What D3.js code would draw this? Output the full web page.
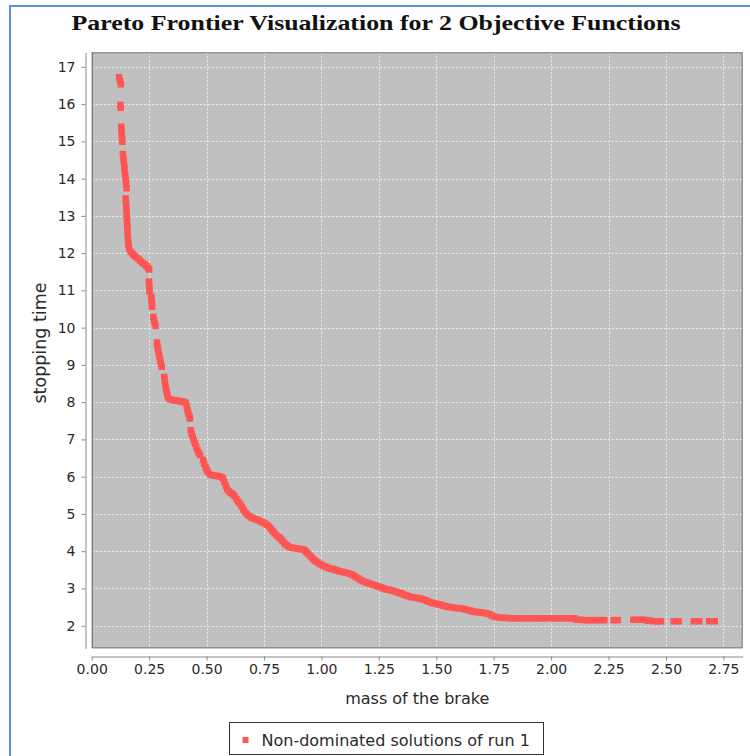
<!DOCTYPE html>
<html>
<head>
<meta charset="utf-8">
<script src="https://cdn.jsdelivr.net/npm/d3@7"></script>
<style>
  html, body { margin: 0; padding: 0; background: #ffffff; }
  svg { display: block; }
</style>
</head>
<body>
<svg id="chart" width="750" height="756"></svg>
<script>
// Non-dominated solutions of run 1: mass of the brake vs. stopping time
const mass = [
  0.119, 0.123, 0.127,
  0.125, 0.126,
  0.129, 0.130, 0.131, 0.132, 0.133,
  0.136, 0.138, 0.140, 0.142, 0.143, 0.145, 0.147, 0.149, 0.150, 0.152,
  0.148, 0.149, 0.150, 0.151, 0.152, 0.153, 0.154, 0.155, 0.156, 0.157, 0.158, 0.159, 0.160,
  0.163, 0.170, 0.178, 0.186, 0.195, 0.204, 0.212, 0.221, 0.230, 0.238, 0.246, 0.250,
  0.249, 0.250, 0.251, 0.252,
  0.259, 0.261, 0.262, 0.263,
  0.268, 0.271, 0.274, 0.278,
  0.284, 0.286, 0.289, 0.292, 0.295, 0.298, 0.301, 0.305,
  0.316, 0.318, 0.320, 0.323, 0.326, 0.329, 0.332,
  0.340, 0.350, 0.360, 0.370, 0.380, 0.390, 0.400, 0.410,
  0.414, 0.417, 0.421, 0.425, 0.428,
  0.431, 0.435, 0.440, 0.445, 0.450, 0.455, 0.460, 0.466, 0.472,
  0.485, 0.490, 0.496, 0.501, 0.506, 0.515, 0.525, 0.535, 0.545, 0.555, 0.565,
  0.572, 0.578, 0.584, 0.590, 0.598, 0.606, 0.614, 0.622, 0.630, 0.638,
  0.646, 0.653, 0.660, 0.667, 0.675, 0.684, 0.693, 0.702, 0.712, 0.722,
  0.732, 0.742, 0.752, 0.762, 0.772, 0.780, 0.788, 0.796, 0.805, 0.814,
  0.822, 0.830, 0.838, 0.846, 0.856, 0.866, 0.876, 0.886, 0.896, 0.906,
  0.916, 0.926, 0.934, 0.942, 0.950, 0.958, 0.966, 0.974, 0.983, 0.992,
  1.001, 1.010, 1.020, 1.030, 1.040, 1.050, 1.060, 1.070, 1.080, 1.090,
  1.100, 1.110, 1.120, 1.130, 1.140, 1.150, 1.160, 1.170, 1.180, 1.190,
  1.200, 1.210, 1.220, 1.230, 1.240, 1.250, 1.260, 1.270, 1.280, 1.290,
  1.300, 1.310, 1.320, 1.330, 1.340, 1.350, 1.360, 1.370, 1.380, 1.390,
  1.400, 1.410, 1.420, 1.430, 1.440, 1.450, 1.460, 1.470, 1.480, 1.490,
  1.500, 1.510, 1.520, 1.530, 1.540, 1.550, 1.560, 1.570, 1.580, 1.590,
  1.600, 1.610, 1.620, 1.630, 1.640, 1.650, 1.660, 1.670, 1.680, 1.690,
  1.700, 1.710, 1.720, 1.730, 1.740, 1.750, 1.760, 1.775, 1.790, 1.805,
  1.820, 1.835, 1.850, 1.865, 1.878,
  1.903, 1.918, 1.933, 1.948, 1.963, 1.975,
  2.000, 2.015, 2.030, 2.045, 2.060, 2.075, 2.090, 2.102,
  2.112, 2.127, 2.142, 2.157, 2.172, 2.187, 2.202, 2.217, 2.232,
  2.272, 2.290,
  2.358, 2.373, 2.388, 2.403, 2.418, 2.430,
  2.447, 2.462, 2.478,
  2.534, 2.555,
  2.621, 2.645,
  2.688, 2.712
];
const stoppingTime = [
  16.72, 16.62, 16.53,
  15.98, 15.90,
  15.39, 15.28, 15.17, 15.07, 14.99,
  14.66, 14.55, 14.45, 14.34, 14.24, 14.14, 14.04, 13.94, 13.84, 13.74,
  13.47, 13.37, 13.26, 13.15, 13.04, 12.93, 12.82, 12.71, 12.60, 12.49, 12.38, 12.28, 12.21,
  12.12, 12.03, 11.98, 11.93, 11.88, 11.84, 11.79, 11.74, 11.70, 11.65, 11.60, 11.56,
  11.24, 11.14, 11.05, 10.97,
  10.83, 10.74, 10.65, 10.56,
  10.29, 10.20, 10.12, 10.05,
  9.60, 9.50, 9.40, 9.30, 9.21, 9.12, 9.03, 8.95,
  8.68, 8.58, 8.48, 8.38, 8.29, 8.20, 8.13,
  8.08, 8.06, 8.05, 8.04, 8.03, 8.02, 8.01, 7.98,
  7.88, 7.78, 7.69, 7.62, 7.56,
  7.25, 7.15, 7.06, 6.97, 6.89, 6.80, 6.72, 6.64, 6.58,
  6.45, 6.35, 6.25, 6.18, 6.13, 6.06, 6.04, 6.03, 6.02, 6.01, 5.99,
  5.95, 5.85, 5.75, 5.66, 5.60, 5.56, 5.53, 5.48, 5.40, 5.33,
  5.27, 5.20, 5.12, 5.05, 5.00, 4.95, 4.91, 4.88, 4.86, 4.84,
  4.81, 4.78, 4.75, 4.71, 4.66, 4.60, 4.54, 4.48, 4.42, 4.38,
  4.34, 4.28, 4.22, 4.17, 4.13, 4.10, 4.09, 4.08, 4.07, 4.06,
  4.05, 4.03, 3.98, 3.93, 3.88, 3.83, 3.78, 3.74, 3.70, 3.66,
  3.63, 3.60, 3.58, 3.55, 3.53, 3.52, 3.50, 3.48, 3.46, 3.45,
  3.43, 3.42, 3.40, 3.38, 3.35, 3.31, 3.27, 3.23, 3.20, 3.17,
  3.15, 3.13, 3.11, 3.09, 3.07, 3.05, 3.03, 3.00, 2.98, 2.97,
  2.96, 2.94, 2.92, 2.90, 2.88, 2.86, 2.83, 2.81, 2.79, 2.77,
  2.76, 2.75, 2.74, 2.73, 2.71, 2.69, 2.67, 2.64, 2.62, 2.60,
  2.59, 2.57, 2.56, 2.54, 2.52, 2.51, 2.50, 2.49, 2.48, 2.47,
  2.47, 2.46, 2.45, 2.43, 2.42, 2.40, 2.38, 2.37, 2.37, 2.36,
  2.35, 2.34, 2.33, 2.31, 2.28, 2.25, 2.23, 2.22, 2.21, 2.21,
  2.20, 2.20, 2.20, 2.20, 2.20,
  2.20, 2.20, 2.20, 2.20, 2.20, 2.20,
  2.20, 2.20, 2.20, 2.20, 2.20, 2.20, 2.20, 2.20,
  2.16, 2.16, 2.15, 2.15, 2.15, 2.15, 2.15, 2.15, 2.15,
  2.15, 2.15,
  2.16, 2.16, 2.16, 2.16, 2.14, 2.14,
  2.12, 2.12, 2.12,
  2.12, 2.12,
  2.12, 2.12,
  2.12, 2.12
];

const xTicks = [0, 0.25, 0.5, 0.75, 1.0, 1.25, 1.5, 1.75, 2.0, 2.25, 2.5, 2.75];
const yTicks = [2, 3, 4, 5, 6, 7, 8, 9, 10, 11, 12, 13, 14, 15, 16, 17];
const xDomain = [0, 2.834];
const yDomain = [1.394, 17.39];

const titleText = "Pareto Frontier Visualization for 2 Objective Functions";
const xLabel = "mass of the brake";
const yLabel = "stopping time";
const seriesName = "Non-dominated solutions of run 1";

const svg = d3.select("#chart");
const plot = { left: 91.7, right: 742.7, top: 52.3, bottom: 648.3 };
const sansFont = "'DejaVu Sans', Verdana, sans-serif";
const pointColor = "#ff5555";
const markerSize = 6.5;

const x = d3.scaleLinear().domain(xDomain).range([plot.left, plot.right]);
const y = d3.scaleLinear().domain(yDomain).range([plot.bottom, plot.top]);

// window frame edge
svg.append("path")
  .attr("d", `M10,756 L10,6 L750,6`)
  .attr("fill", "none")
  .attr("stroke", "#5d8fd5")
  .attr("stroke-width", 2);

// title
svg.append("text")
  .attr("x", 376)
  .attr("y", 30)
  .attr("text-anchor", "middle")
  .attr("font-family", "'Liberation Serif', 'DejaVu Serif', serif")
  .attr("font-weight", "bold")
  .attr("font-size", 22)
  .attr("textLength", 609)
  .attr("lengthAdjust", "spacingAndGlyphs")
  .attr("fill", "#111")
  .text(titleText);

// plot background
svg.append("rect")
  .attr("x", plot.left)
  .attr("y", plot.top)
  .attr("width", plot.right - plot.left)
  .attr("height", plot.bottom - plot.top)
  .attr("fill", "#c0c0c0");

// gridlines
const grid = svg.append("g").attr("stroke", "#ececec").attr("stroke-width", 1)
  .attr("stroke-dasharray", "2,2");
grid.selectAll("line.gx").data(xTicks.filter(d => d > 0)).join("line")
  .attr("class", "gx")
  .attr("x1", d => Math.round(x(d)) + 0.5).attr("x2", d => Math.round(x(d)) + 0.5)
  .attr("y1", plot.top).attr("y2", plot.bottom);
grid.selectAll("line.gy").data(yTicks).join("line")
  .attr("class", "gy")
  .attr("y1", d => Math.round(y(d)) + 0.5).attr("y2", d => Math.round(y(d)) + 0.5)
  .attr("x1", plot.left).attr("x2", plot.right);

// zero line of the domain axis
svg.append("line")
  .attr("x1", Math.round(x(0)) + 0.5).attr("x2", Math.round(x(0)) + 0.5)
  .attr("y1", plot.top).attr("y2", plot.bottom)
  .attr("stroke", "#3a3a90")
  .attr("stroke-width", 1)
  .attr("stroke-dasharray", "1,1");

// plot outline
svg.append("rect")
  .attr("x", plot.left + 0.5)
  .attr("y", plot.top + 0.5)
  .attr("width", plot.right - plot.left - 1)
  .attr("height", plot.bottom - plot.top - 1)
  .attr("fill", "none")
  .attr("stroke", "#7a7a7a")
  .attr("stroke-width", 1);

// points
const points = mass.map((m, i) => ({ m, t: stoppingTime[i] }));
svg.append("g").selectAll("rect").data(points).join("rect")
  .attr("x", d => x(d.m) - markerSize / 2)
  .attr("y", d => y(d.t) - markerSize / 2)
  .attr("width", markerSize)
  .attr("height", markerSize)
  .attr("fill", pointColor);

// axes
const xAxis = d3.axisBottom(x).tickValues(xTicks).tickFormat(d3.format(".2f"))
  .tickSizeInner(4).tickSizeOuter(0).tickPadding(4);
const gx = svg.append("g").attr("transform", "translate(0,656.5)").call(xAxis);
gx.select(".domain").attr("stroke", "#888");
gx.selectAll(".tick line").attr("stroke", "#888");
gx.selectAll(".tick text").attr("font-family", sansFont).attr("font-size", 14).attr("fill", "#2a2a2a");

const yAxis = d3.axisLeft(y).tickValues(yTicks).tickFormat(d3.format("d"))
  .tickSizeInner(4).tickSizeOuter(0).tickPadding(6);
const gy = svg.append("g").attr("transform", "translate(85.5,0)").call(yAxis);
gy.select(".domain").attr("stroke", "#888");
gy.selectAll(".tick line").attr("stroke", "#888");
gy.selectAll(".tick text").attr("font-family", sansFont).attr("font-size", 14).attr("fill", "#2a2a2a");

// axis labels
svg.append("text")
  .attr("x", (plot.left + plot.right) / 2)
  .attr("y", 704)
  .attr("text-anchor", "middle")
  .attr("font-family", sansFont)
  .attr("font-size", 16)
  .attr("fill", "#2a2a2a")
  .text(xLabel);

svg.append("text")
  .attr("transform", "translate(46,343) rotate(-90)")
  .attr("text-anchor", "middle")
  .attr("font-family", sansFont)
  .attr("font-size", 17.5)
  .attr("fill", "#2a2a2a")
  .text(yLabel);

// legend
const legend = svg.append("g");
legend.append("rect")
  .attr("x", 229.5).attr("y", 722.5)
  .attr("width", 314).attr("height", 32)
  .attr("fill", "#fff")
  .attr("stroke", "#333")
  .attr("stroke-width", 1);
legend.append("rect")
  .attr("x", 242.5).attr("y", 737)
  .attr("width", 6).attr("height", 6)
  .attr("fill", pointColor);
legend.append("text")
  .attr("x", 261.5).attr("y", 745.5)
  .attr("font-family", sansFont)
  .attr("font-size", 16)
  .attr("fill", "#2a2a2a")
  .text(seriesName);
</script>
</body>
</html>
